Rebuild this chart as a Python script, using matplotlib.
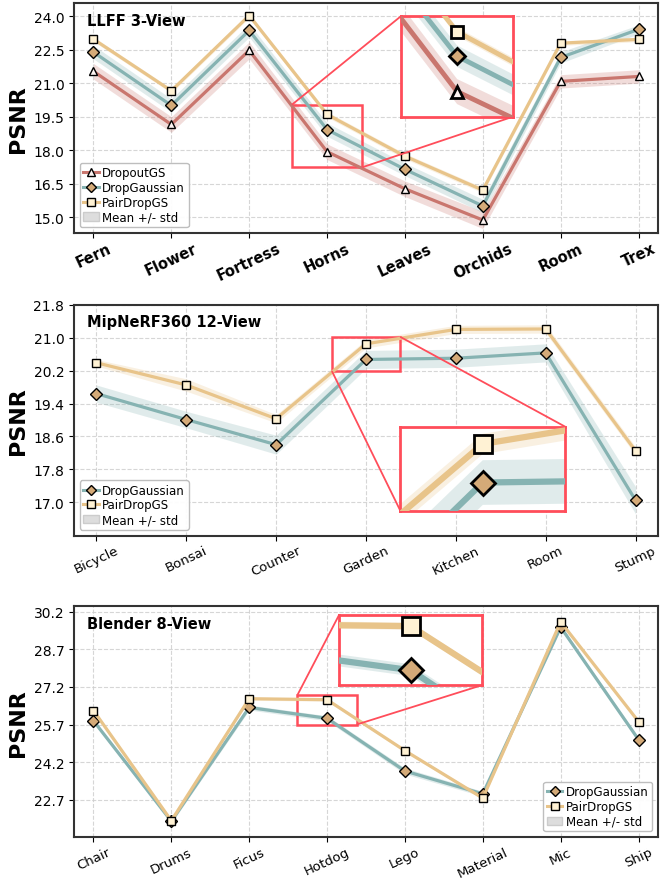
import numpy as np
import matplotlib
matplotlib.use('Agg')
import matplotlib.pyplot as plt
from matplotlib.patches import Patch
from matplotlib.lines import Line2D
from mpl_toolkits.axes_grid1.inset_locator import mark_inset

plt.rcParams['font.family'] = ['DejaVu Sans']

# ---- data ----
llff_scenes = ['Fern', 'Flower', 'Fortress', 'Horns', 'Leaves', 'Orchids', 'Room', 'Trex']
llff_dropout = [21.54, 19.16, 22.48, 17.94, 16.28, 14.88, 21.09, 21.31]
llff_dropout_std = [0.35, 0.35, 0.38, 0.35, 0.35, 0.38, 0.3, 0.3]
llff_dropgauss = [22.40, 20.01, 23.37, 18.93, 17.15, 15.51, 22.16, 23.42]
llff_dropgauss_std = [0.3, 0.3, 0.3, 0.3, 0.28, 0.3, 0.25, 0.2]
llff_pair = [22.98, 20.67, 24.04, 19.61, 17.74, 16.22, 22.80, 22.97]
llff_pair_std = [0.1, 0.1, 0.1, 0.12, 0.12, 0.12, 0.1, 0.1]

mip_scenes = ['Bicycle', 'Bonsai', 'Counter', 'Garden', 'Kitchen', 'Room', 'Stump']
mip_dropgauss = [19.64, 19.01, 18.40, 20.47, 20.50, 20.63, 17.05]
mip_dropgauss_std = [0.21, 0.2, 0.23, 0.22, 0.22, 0.22, 0.33]
mip_pair = [20.39, 19.85, 19.03, 20.85, 21.20, 21.21, 18.25]
mip_pair_std = [0.08, 0.15, 0.1, 0.1, 0.1, 0.1, 0.1]

bl_scenes = ['Chair', 'Drums', 'Ficus', 'Hotdog', 'Lego', 'Material', 'Mic', 'Ship']
bl_dropgauss = [25.85, 21.85, 26.38, 25.95, 23.85, 22.94, 29.58, 25.10]
bl_dropgauss_std = [0.08, 0.08, 0.1, 0.1, 0.12, 0.1, 0.08, 0.08]
bl_pair = [26.26, 21.87, 26.73, 26.69, 24.66, 22.77, 29.79, 25.82]
bl_pair_std = [0.06, 0.06, 0.06, 0.06, 0.06, 0.06, 0.06, 0.06]

# ---- styles ----
styles = {
    'DropoutGS': dict(color='#c9766e', marker='^', mfc='#fdf5f3'),
    'DropGaussian': dict(color='#86b3b2', marker='D', mfc='#d4aa78'),
    'PairDropGS': dict(color='#e8c48a', marker='s', mfc='#fff2d4'),
}
red = '#ff4d5a'


def draw_series(ax, x, y, s, name, ms=6.0, lw=2.3, mew=1.0):
    st = styles[name]
    y = np.array(y)
    s = np.array(s)
    ax.fill_between(x, y - s, y + s, color=st['color'], alpha=0.25, lw=0)
    if name == 'DropGaussian':
        ms = ms * 0.95
    ax.plot(x, y, color=st['color'], lw=lw, marker=st['marker'],
            ms=ms, mfc=st['mfc'], mec='black', mew=mew, zorder=3)


def setup(ax, scenes, ticks, ylim, title, bold_x):
    x = np.arange(len(scenes))
    ax.set_xlim(-0.25, len(scenes) - 0.75)
    ax.set_ylim(*ylim)
    ax.set_yticks(ticks)
    ax.set_yticklabels(['%.1f' % t for t in ticks], fontsize=10)
    ax.set_xticks(x)
    ax.set_xticklabels(scenes, rotation=25, fontsize=10.5 if bold_x else 9.5,
                       fontweight='bold' if bold_x else 'normal')
    ax.tick_params(axis='x', pad=2)
    ax.grid(True, ls='--', color='#cccccc', lw=0.8, alpha=0.8)
    ax.set_axisbelow(True)
    for sp in ax.spines.values():
        sp.set_linewidth(1.5)
        sp.set_color('#333333')
    ax.set_ylabel('PSNR', fontsize=16, fontweight='bold')
    ax.text(0.022, 0.926, title, transform=ax.transAxes, fontsize=10.5,
            fontweight='bold', va='center')
    return x


def make_legend(ax, names, loc):
    handles = []
    for n in names:
        st = styles[n]
        handles.append(Line2D([0], [0], color=st['color'], lw=2.2, marker=st['marker'],
                              ms=5.5, mfc=st['mfc'], mec='black', mew=1.0, label=n))
    handles.append(Patch(facecolor='#dddddd', edgecolor='#cccccc', label='Mean +/- std'))
    ax.legend(handles=handles, loc=loc, fontsize=8.5, handlelength=1.3,
              handletextpad=0.3, labelspacing=0.15, borderpad=0.3,
              edgecolor='#bbbbbb', framealpha=0.95)


def add_inset(ax, bounds, xr, yr, series, locs, ms, lw):
    axins = ax.inset_axes(bounds)
    for x, y, s, n in series:
        draw_series(axins, x, y, s, n, ms=ms, lw=lw, mew=2.0)
    axins.set_xlim(*xr)
    axins.set_ylim(*yr)
    axins.set_xticks([])
    axins.set_yticks([])
    for sp in axins.spines.values():
        sp.set_color(red)
        sp.set_linewidth(2)
    rect, c1, c2 = mark_inset(ax, axins, loc1=locs[0], loc2=locs[1], fc='none', ec=red, lw=1.3)
    rect.set_linewidth(1.8)
    c1.set_linewidth(1.3)
    c2.set_linewidth(1.3)
    return axins


fig = plt.figure(figsize=(6.6, 8.79), dpi=100)
W, H = 660.0, 879.0

# ---- LLFF ----
ax1 = fig.add_axes([74 / W, 1 - 234 / H, 584 / W, 230 / H])
x = setup(ax1, llff_scenes, [15.0, 16.5, 18.0, 19.5, 21.0, 22.5, 24.0], (14.3, 24.6),
          'LLFF 3-View', True)
s1 = [(x, llff_dropout, llff_dropout_std, 'DropoutGS'),
      (x, llff_dropgauss, llff_dropgauss_std, 'DropGaussian'),
      (x, llff_pair, llff_pair_std, 'PairDropGS')]
for a in s1:
    draw_series(ax1, *a)
make_legend(ax1, ['DropoutGS', 'DropGaussian', 'PairDropGS'], 'lower left')
add_inset(ax1, [0.56, 0.506, 0.192, 0.437], (2.55, 3.45), (17.24, 20.05), s1, (2, 4),
          ms=9, lw=3.5)

# ---- MipNeRF360 ----
ax2 = fig.add_axes([74 / W, 1 - 536.7 / H, 584 / W, 231 / H])
x = setup(ax2, mip_scenes, [17.0, 17.8, 18.6, 19.4, 20.2, 21.0, 21.8], (16.19, 21.8),
          'MipNeRF360 12-View', False)
s2 = [(x, mip_dropgauss, mip_dropgauss_std, 'DropGaussian'),
      (x, mip_pair, mip_pair_std, 'PairDropGS')]
for a in s2:
    draw_series(ax2, *a)
make_legend(ax2, ['DropGaussian', 'PairDropGS'], 'lower left')
add_inset(ax2, [0.559, 0.107, 0.282, 0.365], (2.62, 3.38), (20.19, 21.02), s2, (1, 3),
          ms=13, lw=4.5)

# ---- Blender ----
ax3 = fig.add_axes([74 / W, 1 - 838.3 / H, 584 / W, 231 / H])
x = setup(ax3, bl_scenes, [22.7, 24.2, 25.7, 27.2, 28.7, 30.2], (21.21, 30.41),
          'Blender 8-View', False)
s3 = [(x, bl_dropgauss, bl_dropgauss_std, 'DropGaussian'),
      (x, bl_pair, bl_pair_std, 'PairDropGS')]
for a in s3:
    draw_series(ax3, *a)
make_legend(ax3, ['DropGaussian', 'PairDropGS'], 'lower right')
add_inset(ax3, [0.454, 0.659, 0.245, 0.304], (2.62, 3.38), (25.7, 26.88), s3, (2, 4),
          ms=13, lw=4.5)

fig.savefig('out.png', dpi=100)
